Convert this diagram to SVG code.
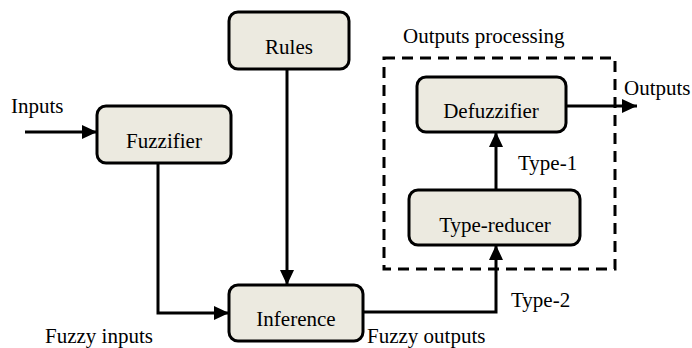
<svg xmlns="http://www.w3.org/2000/svg" width="692" height="348" viewBox="0 0 692 348">
<style>
.box{fill:#ECEAE0;stroke:#000;stroke-width:3}
.lbl{font-family:"Liberation Serif","Times New Roman",serif;font-size:21px;fill:#000}
.mid{text-anchor:middle}
.conn{fill:none;stroke:#000;stroke-width:3}
.dash{fill:none;stroke:#000;stroke-width:3;stroke-dasharray:11 7}
</style>
<defs>
<marker id="ah" markerUnits="userSpaceOnUse" markerWidth="16" markerHeight="14" refX="15" refY="7" orient="auto">
<path d="M0,0 L15,7 L0,14 z" fill="#000"/>
</marker>
</defs>
<rect fill="#fff" x="0" y="0" width="692" height="348"/>
<g id="outputs-processing">
<rect class="dash" x="384" y="58" width="231" height="211"/>
<text class="lbl" x="403" y="43">Outputs processing</text>
</g>
<g id="connectors">
<line class="conn" x1="25" y1="132" x2="97" y2="132" marker-end="url(#ah)"/>
<polyline class="conn" points="158,163 158,313 229,313" marker-end="url(#ah)"/>
<line class="conn" x1="287" y1="69" x2="287" y2="285" marker-end="url(#ah)"/>
<polyline class="conn" points="363,312 496,312 496,245" marker-end="url(#ah)"/>
<line class="conn" x1="496" y1="190" x2="496" y2="132" marker-end="url(#ah)"/>
<line class="conn" x1="566" y1="106" x2="637" y2="106" marker-end="url(#ah)"/>
</g>
<g id="labels">
<text class="lbl" x="11" y="113">Inputs</text>
<text class="lbl" x="624" y="95">Outputs</text>
<text class="lbl" x="518" y="170">Type-1</text>
<text class="lbl" x="511" y="307">Type-2</text>
<text class="lbl" x="45" y="343">Fuzzy inputs</text>
<text class="lbl" x="367" y="343">Fuzzy outputs</text>
</g>
<g id="rules">
<rect class="box" x="229" y="12" width="120" height="57" rx="9"/>
<text class="lbl mid" x="289" y="54">Rules</text>
</g>
<g id="fuzzifier">
<rect class="box" x="97" y="106" width="134" height="57" rx="9"/>
<text class="lbl mid" x="164" y="148">Fuzzifier</text>
</g>
<g id="inference">
<rect class="box" x="229" y="285" width="134" height="56" rx="9"/>
<text class="lbl mid" x="296" y="326">Inference</text>
</g>
<g id="type-reducer">
<rect class="box" x="409" y="190" width="171" height="55" rx="9"/>
<text class="lbl mid" x="495" y="232">Type-reducer</text>
</g>
<g id="defuzzifier">
<rect class="box" x="417" y="77" width="149" height="55" rx="9"/>
<text class="lbl mid" x="491" y="118">Defuzzifier</text>
</g>
</svg>
